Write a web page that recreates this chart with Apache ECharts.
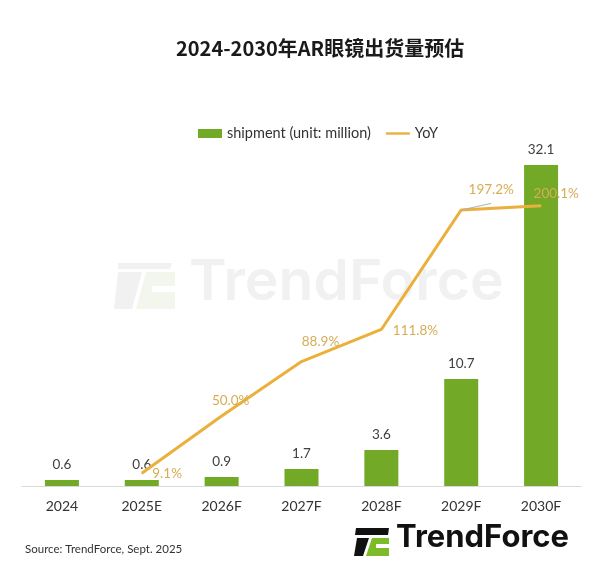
<!DOCTYPE html>
<html>
<head>
<meta charset="utf-8">
<script src="https://cdn.jsdelivr.net/npm/echarts@6/dist/echarts.min.js"></script>
<style>
html,body{margin:0;padding:0;background:#fff;}
#main{width:600px;height:579px;}
</style>
</head>
<body>
<div id="main"></div>
<script>
const categories = ['2024','2025E','2026F','2027F','2028F','2029F','2030F'];
const shipment = [0.6, 0.6, 0.9, 1.7, 3.6, 10.7, 32.1];
const yoy = [null, 9.1, 50.0, 88.9, 111.8, 197.2, 200.1];
const seriesNames = ['shipment (unit: million)', 'YoY'];
const titleText = '2024-2030年AR眼镜出货量预估';
const sourceText = 'Source: TrendForce, Sept. 2025';

const GREEN = '#72aa28';
const GOLD = '#ebb03c';
const LABELGOLD = '#d6ad55';
const FONT = 'Lato, "Noto Sans", sans-serif';

// label placement per YoY point
const yoyLabelCfg = [
  null,
  {position:'right', distance:10, offset:[0,0]},
  {position:'top', distance:8, offset:[9,0]},
  {position:'top', distance:8, offset:[19,-4]},
  {position:'right', distance:11, offset:[0,1]},
  {position:'top', distance:10, offset:[30,-3]},
  {position:'right', distance:-8, offset:[0,-12]}
];

const yoyData = yoy.map((v,i)=> v===null ? null : ({
  value: v,
  label: Object.assign({show:true}, yoyLabelCfg[i]),
  labelLine: i===5 ? {show:true, lineStyle:{color:'#b0b0b0', width:1}} : {show:false}
}));

const chart = echarts.init(document.getElementById('main'));
chart.setOption({
  backgroundColor:'#fff',
  animation:false,
  textStyle:{fontFamily:FONT},
  title:{
    text:titleText, left:171, top:33,
    textStyle:{fontFamily:'"Noto Sans CJK SC", sans-serif', fontWeight:'bold', fontSize:20, color:'#1a1a1a'}
  },
  legend:{
    top:121, left:193,
    itemWidth:24, itemHeight:9, itemGap:15,
    textStyle:{fontFamily:FONT, fontSize:14.5, color:'#333'},
    data:[
      {name:seriesNames[0], icon:'rect'},
      {name:seriesNames[1], icon:'path://M0,0L30,0L30,3L0,3Z'}
    ]
  },
  grid:{left:22, right:19, top:136, bottom:93},
  xAxis:{
    type:'category', data:categories,
    axisLine:{show:true, lineStyle:{color:'#d9d9d9', width:1}},
    axisTick:{show:false},
    axisLabel:{fontFamily:FONT, fontSize:14, color:'#333', margin:13}
  },
  yAxis:[
    {type:'value', min:0, max:35, show:false, splitLine:{show:false}},
    {type:'value', min:0, max:250, show:false, splitLine:{show:false}}
  ],
  graphic:[
    // watermark
    {type:'group', z:-10, silent:true, children:[
      {type:'polygon', shape:{points:[[118,263],[172,263],[170,269],[118,269]]}, style:{fill:'#f1f1f1'}},
      {type:'polygon', shape:{points:[[118,272],[142,272],[132,309],[114,309]]}, style:{fill:'#f1f1f1'}},
      {type:'polygon', shape:{points:[[146,272],[175,272],[175,309],[136,309]]}, style:{fill:'#f3f6ec'}},
      {type:'rect', shape:{x:152,y:286,width:24,height:6}, style:{fill:'#fff'}},
      {type:'text', left:189, top:254, style:{text:'TrendForce', fontFamily:'Inter, sans-serif', fontWeight:600, fontSize:57, fill:'#f1f1f1'}}
    ]},
    // bottom logo
    {type:'polygon', shape:{points:[[356,528],[389,528],[388,535],[355,535]]}, style:{fill:'#111'}},
    {type:'polygon', shape:{points:[[357,538],[369,538],[363,556],[354,556]]}, style:{fill:'#111'}},
    {type:'polygon', shape:{points:[[372,538],[389,538],[389,556],[366,556]]}, style:{fill:'#7dbb2a'}},
    {type:'rect', shape:{x:376,y:544,width:13,height:4}, style:{fill:'#fff'}},
    {type:'text', left:396, top:522, style:{text:'TrendForce', fontFamily:'Inter, sans-serif', fontWeight:700, fontSize:31, fill:'#111'}},
    // source
    {type:'text', left:25, top:543, style:{text:sourceText, fontFamily:FONT, fontSize:11.5, fill:'#333'}}
  ],
  series:[
    {
      name:seriesNames[0], type:'bar', data:shipment, barWidth:34,
      itemStyle:{color:GREEN},
      label:{show:true, position:'top', distance:8, fontFamily:FONT, fontSize:13.5, color:'#404040'},
      z:2
    },
    {
      name:seriesNames[1], type:'line', yAxisIndex:1, data:yoyData,
      symbol:'circle', symbolSize:1, showSymbol:true,
      lineStyle:{color:GOLD, width:3},
      itemStyle:{color:GOLD},
      label:{show:true, fontFamily:FONT, fontSize:13.5, color:LABELGOLD, formatter:p=>p.value.toFixed(1)+'%'},
      z:3
    }
  ]
});
</script>
</body>
</html>
